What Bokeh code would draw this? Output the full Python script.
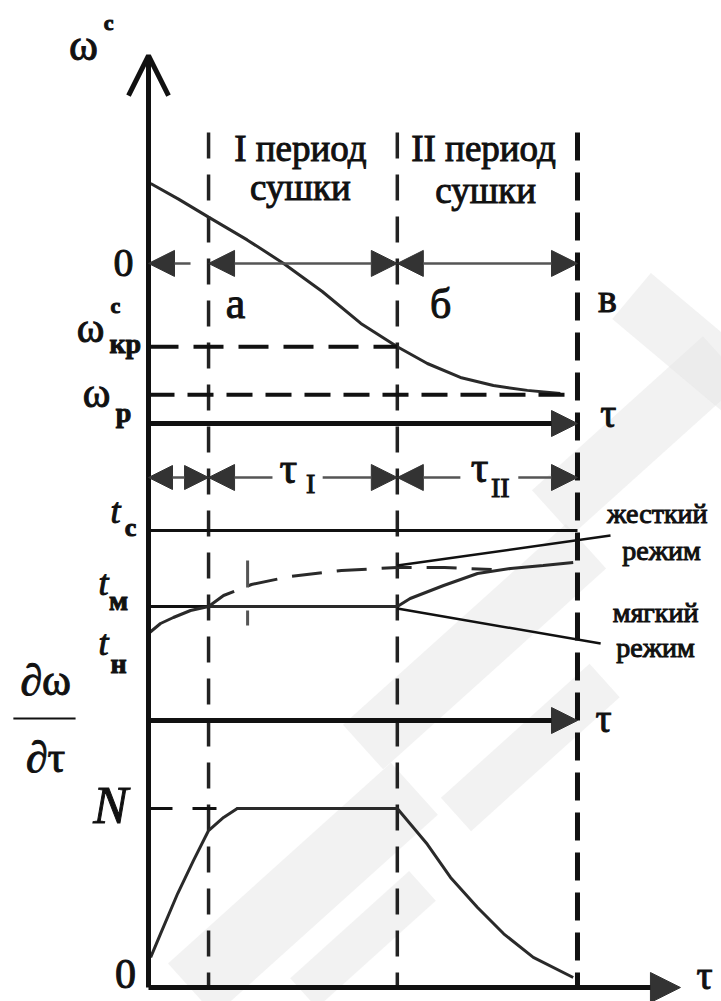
from bokeh.plotting import figure
from bokeh.models import Range1d, Arrow, NormalHead, OpenHead
from bokeh.core.properties import value
from bokeh.embed import file_html
from bokeh.resources import INLINE
import math

# ---- time marks: axis origin, end of warm-up, critical point, end of drying
tau_marks = [0.0, 1.4, 5.8, 10.0]
TAU_A, TAU_KR, TAU_END = tau_marks[1:]

# ---- moisture content  w^c(tau)
tau_w = [0.05, 0.7, 1.4, 2.3, 3.15, 4.05, 4.95, 5.8, 6.5, 7.27, 8.04, 8.83, 9.6]
w_c = [10.0, 9.35, 8.6, 7.65, 6.67, 5.5, 4.17, 3.2, 2.5, 1.92, 1.58, 1.38, 1.25]
W_KR = 3.2   # critical moisture
W_P = 1.2    # equilibrium moisture

# ---- temperature of the material
T_C = 95.0   # drying agent temperature
T_M = 57.0   # wet-bulb temperature
tau_soft = [0.0, 0.28, 0.58, 0.98, 1.4, 5.8, 6.1, 6.88, 7.67, 8.44, 9.2, 9.9]
t_soft = [43.5, 48.5, 51.5, 55.0, 57.0, 57.0, 61.0, 67.5, 73.5, 76.0, 77.5, 79.0]
tau_hard = [1.4, 1.75, 2.4, 3.3, 4.5, 5.8, 6.9, 8.0]
t_hard = [57.0, 62.5, 68.0, 72.0, 75.0, 76.5, 76.5, 75.5]

# ---- drying rate  dw/dtau
tau_rate = [0.05, 0.28, 0.68, 1.05, 1.4, 1.75, 2.07, 5.8, 6.5, 7.04, 7.67, 8.28, 8.97, 9.9]
rate = [0.168, 0.30, 0.525, 0.71, 0.877, 0.95, 1.0, 1.0, 0.80, 0.615, 0.447, 0.30, 0.168, 0.056]
N_RATE = 1.0

SERIF = value("Liberation Serif")
INK = "#111111"
CURVE = "#2a2a2a"
DIM = "#555555"
HEAD = "#333333"

# ---- stacked panels share one canvas; each quantity gets its own vertical scale
H = 1001
W_BASE, W_PX = 423, 24.0     # moisture: zero line and pixels per unit
T_BASE, T_PX = 720, 2.0      # temperature
R_BASE, R_PX = 987, 179.0    # drying rate


def vrange(base, scale):
    return Range1d((base - H) / scale, base / scale)


W_BOTTOM = (W_BASE - R_BASE) / W_PX   # rate zero line expressed on the moisture scale

p = figure(width=721, height=H, x_range=Range1d(-3.45, 13.357), y_range=vrange(W_BASE, W_PX),
           x_axis_type=None, y_axis_type=None, toolbar_location=None,
           output_backend="svg", min_border=0, outline_line_color=None,
           background_fill_color="white", border_fill_color="white")
p.extra_y_ranges = {"t": vrange(T_BASE, T_PX), "r": vrange(R_BASE, R_PX)}

# faint diagonal watermark bands behind the diagram
wm_x = [3.6, 7.6, 11.4, 12.6, 8.9, 5.0]
wm_y = [-19.4, -9.3, -0.5, 3.3, -13.5, -21.5]
wm_len = [300, 300, 230, 150, 200, 160]
wm_wid = [70, 60, 60, 60, 45, 40]
wm_ang = [math.radians(a) for a in (42, 42, 42, -40, 42, 42)]
p.rect(x=wm_x, y=wm_y, width=wm_len, height=wm_wid, angle=wm_ang,
       width_units="screen", height_units="screen",
       fill_color="#e6e6e6", fill_alpha=0.5, line_color=None)


def label(x, y, text, size, style="normal", rng="default", color=INK):
    p.text(x=[x], y=[y], text=[text], text_font=SERIF, text_font_size=value(f"{size}px"),
           text_font_style=value(style), text_align=value("center"),
           text_baseline=value("middle"), text_color=value(color),
           text_outline_color=value(color), y_range_name=rng)


def head(size):
    return NormalHead(size=size, fill_color=HEAD, line_color=HEAD, line_width=1)


def dim_arrow(x0, x1, y, start=True, end=True, size=26, rng="default"):
    p.add_layout(Arrow(x_start=x0, y_start=y, x_end=x1, y_end=y,
                       start=head(size) if start else None,
                       end=head(size) if end else None,
                       line_color=DIM, line_width=2.5, y_range_name=rng))


# stage boundaries running through all three panels
p.segment(x0=tau_marks[1:3], y0=[12.125] * 2, x1=tau_marks[1:3], y1=[W_BOTTOM] * 2,
          line_color="#222222", line_width=3.5, line_dash="26 16")
p.segment(x0=[TAU_END], y0=[12.125], x1=[TAU_END], y1=[W_BOTTOM],
          line_color="#111111", line_width=5, line_dash="28 12")

# common vertical axis with an open head
p.add_layout(Arrow(x_start=0, y_start=W_BOTTOM, x_end=0, y_end=15.33,
                   end=OpenHead(size=40, line_color=INK, line_width=5),
                   line_color=INK, line_width=5))

# =================== moisture content ===================
p.line(tau_w, w_c, line_color=CURVE, line_width=3)
p.segment(x0=[0], y0=[W_KR], x1=[TAU_KR], y1=[W_KR], line_color=INK, line_width=4, line_dash="30 15")
p.segment(x0=[0], y0=[W_P], x1=[TAU_END], y1=[W_P], line_color=INK, line_width=4, line_dash="26 13")
p.add_layout(Arrow(x_start=0, y_start=0, x_end=TAU_END, y_end=0, end=head(26),
                   line_color=INK, line_width=5))

ROW_W = 6.67
dim_arrow(0.0, 0.98, ROW_W, start=True, end=False)
dim_arrow(TAU_A, TAU_KR, ROW_W)
dim_arrow(TAU_KR, TAU_END, ROW_W)

label(-1.515, 15.75, "ω", 44)
label(-0.93, 16.71, "c", 22, "bold")
label(3.54, 11.46, "I период", 37)
label(3.54, 9.83, "сушки", 37)
label(7.81, 11.46, "II период", 37)
label(7.86, 9.71, "сушки", 37)
label(-0.58, ROW_W, "0", 40)
label(2.03, 5.0, "а", 44)
label(6.81, 5.0, "б", 42)
label(10.7, 5.21, "в", 40)
label(-1.35, 4.0, "ω", 42)
label(-0.77, 4.92, "c", 22, "bold")
label(-0.54, 3.33, "кр", 28, "bold")
label(-1.21, 1.29, "ω", 42)
label(-0.58, 0.46, "р", 28, "bold")
label(10.72, 0.42, "τ", 40)

# =================== temperature ===================
p.segment(x0=[0], y0=[T_C], x1=[TAU_END], y1=[T_C], line_color=INK, line_width=3, y_range_name="t")
p.segment(x0=[0], y0=[T_M], x1=[TAU_KR], y1=[T_M], line_color=INK, line_width=3, y_range_name="t")
p.line(tau_soft, t_soft, line_color=CURVE, line_width=3, y_range_name="t")
p.line(tau_hard, t_hard, line_color=CURVE, line_width=3, line_dash="30 15", y_range_name="t")
p.segment(x0=[2.31], y0=[80], x1=[2.31], y1=[47.5], line_color=DIM, line_width=3,
          line_dash="27 23", y_range_name="t")

# leader lines to the regime captions
p.segment(x0=[TAU_KR, TAU_KR], y0=[77.5, 56.0], x1=[10.77, 10.54], y1=[92.5, 38.5],
          line_color=INK, line_width=2.5, y_range_name="t")

p.add_layout(Arrow(x_start=0, y_start=0, x_end=TAU_END, y_end=0, end=head(26),
                   line_color=INK, line_width=5, y_range_name="t"))

ROW_T = 121.5
dim_arrow(0.0, TAU_A, ROW_T, size=24, rng="t")
dim_arrow(TAU_A, 2.89, ROW_T, start=True, end=False, rng="t")
dim_arrow(4.06, TAU_KR, ROW_T, start=False, end=True, rng="t")
dim_arrow(TAU_KR, 7.27, ROW_T, start=True, end=False, rng="t")
dim_arrow(8.62, TAU_END, ROW_T, start=False, end=True, rng="t")

label(3.26, 126, "τ", 44, rng="t")
label(3.78, 118.5, "I", 28, rng="t")
label(7.72, 126.5, "τ", 44, rng="t")
label(8.2, 116.5, "II", 28, rng="t")
label(-0.77, 105, "t", 36, "italic", rng="t")
label(-0.42, 96.5, "с", 26, "bold", rng="t")
label(-1.05, 69, "t", 36, "italic", rng="t")
label(-0.70, 60, "м", 28, "bold", rng="t")
label(-1.05, 39, "t", 36, "italic", rng="t")
label(-0.70, 28.5, "н", 28, "bold", rng="t")
label(-2.40, 20, "∂ω", 44, rng="t")
p.segment(x0=[-3.15], y0=[1], x1=[-1.70], y1=[1], line_color=INK, line_width=2, y_range_name="t")
label(11.86, 103.5, "жесткий", 28, rng="t")
label(11.96, 85, "режим", 28, rng="t")
label(11.82, 54, "мягкий", 28, rng="t")
label(11.82, 36.5, "режим", 28, rng="t")
label(10.61, 1, "τ", 40, rng="t")

# =================== drying rate ===================
p.segment(x0=[0], y0=[N_RATE], x1=[tau_rate[6]], y1=[N_RATE], line_color=INK, line_width=3,
          line_dash="24 20", y_range_name="r")
p.line(tau_rate, rate, line_color=CURVE, line_width=3, y_range_name="r")
p.add_layout(Arrow(x_start=0, y_start=0, x_end=12.4, y_end=0, end=head(30),
                   line_color=INK, line_width=5, y_range_name="r"))

label(-2.40, 1.285, "∂τ", 44, rng="r")
label(-0.886, 1.017, "N", 52, "italic", rng="r")
label(-0.536, 0.073, "0", 42, rng="r")
label(12.96, 0.067, "τ", 40, rng="r")

open("out.html", "w").write(file_html(p, INLINE))
